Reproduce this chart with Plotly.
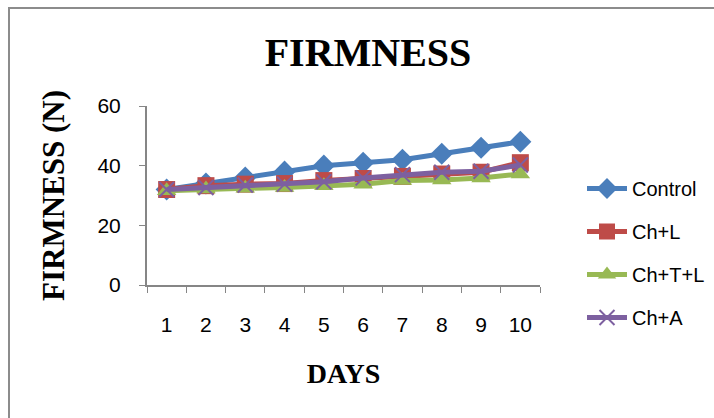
import plotly.graph_objects as go

days = ["1", "2", "3", "4", "5", "6", "7", "8", "9", "10"]
control = [32, 34, 36, 38, 40, 41, 42, 44, 46, 48]
ch_l = [32, 33.3, 33.8, 34, 35, 35.7, 36.4, 37.2, 37.8, 41]
ch_t_l = [31.6, 32.2, 32.4, 32.7, 33.3, 33.8, 35, 35.2, 35.9, 37.2]
ch_a = [32, 32.7, 33.5, 33.8, 34.6, 35.9, 37, 37.8, 38.1, 40.2]

series = [
    ("Control", control, "#4A7EBB", "diamond", 17),
    ("Ch+L", ch_l, "#BE4B48", "square", 17),
    ("Ch+T+L", ch_t_l, "#98B954", "triangle-up", 17),
    ("Ch+A", ch_a, "#7D60A0", "x-thin", 15),
]

fig = go.Figure()
for i, (name, vals, color, symbol, size) in enumerate(series):
    marker = dict(symbol=symbol, size=size, color=color)
    if symbol == "x-thin":
        marker["line"] = dict(color=color, width=2)
    fig.add_trace(go.Scatter(
        x=days, y=vals, name=name, mode="lines+markers",
        line=dict(color=color, width=5), marker=marker,
        legendgroup=f"g{i}",
    ))

# plot-area edges in pixels
L, R, T, B = 147, 540, 106, 285
W, H = 714, 418
pw, ph = R - L, B - T

def px_to_paper(x, y):
    return (x - L) / pw, (B - y) / ph

x0, y0 = px_to_paper(9, 8)
x1, y1 = px_to_paper(724, 428)

tick_font = dict(family="Liberation Sans", size=21, color="black")
serif_bold = dict(family="Liberation Serif", color="black")

fig.update_layout(
    width=W, height=H,
    margin=dict(l=L, r=W - R, t=T, b=H - B, autoexpand=False),
    paper_bgcolor="white", plot_bgcolor="white",
    title=dict(text="<b>FIRMNESS</b>", x=(368 - L) / pw, xref="paper",
               xanchor="center", y=1 - 52 / H, yanchor="middle",
               font=dict(size=40, **serif_bold)),
    showlegend=True,
    legend=dict(x=(582 - L) / pw, xanchor="left", y=(B - 169) / ph, yanchor="top",
                xref="paper", yref="paper", itemwidth=40,
                font=dict(family="Liberation Sans", size=20, color="black"),
                tracegroupgap=14, bgcolor="rgba(0,0,0,0)"),
    xaxis=dict(type="category", range=[-0.5, 9.5], tickson="boundaries",
               ticks="outside", ticklen=6,
               tickcolor="#868686", showline=True, linecolor="#868686", linewidth=2,
               showgrid=False, zeroline=False, ticklabelstandoff=20,
               tickfont=tick_font,
               title=dict(text="<b>DAYS</b>", standoff=28,
                          font=dict(size=28, **serif_bold))),
    yaxis=dict(range=[0, 60], tickvals=[0, 20, 40, 60], ticks="outside", ticklen=6,
               tickcolor="#868686", showline=True, linecolor="#868686", linewidth=2,
               showgrid=False, zeroline=False, ticklabelstandoff=14,
               tickfont=tick_font,
               title=dict(text="<b>FIRMNESS (N)</b>", standoff=24,
                          font=dict(size=31, **serif_bold))),
    shapes=[dict(type="rect", xref="paper", yref="paper",
                 x0=x0, y0=y1, x1=x1, y1=y0,
                 line=dict(color="#8C8C8C", width=2), fillcolor="rgba(0,0,0,0)",
                 layer="below")],
)

fig.write_html("out.html")
